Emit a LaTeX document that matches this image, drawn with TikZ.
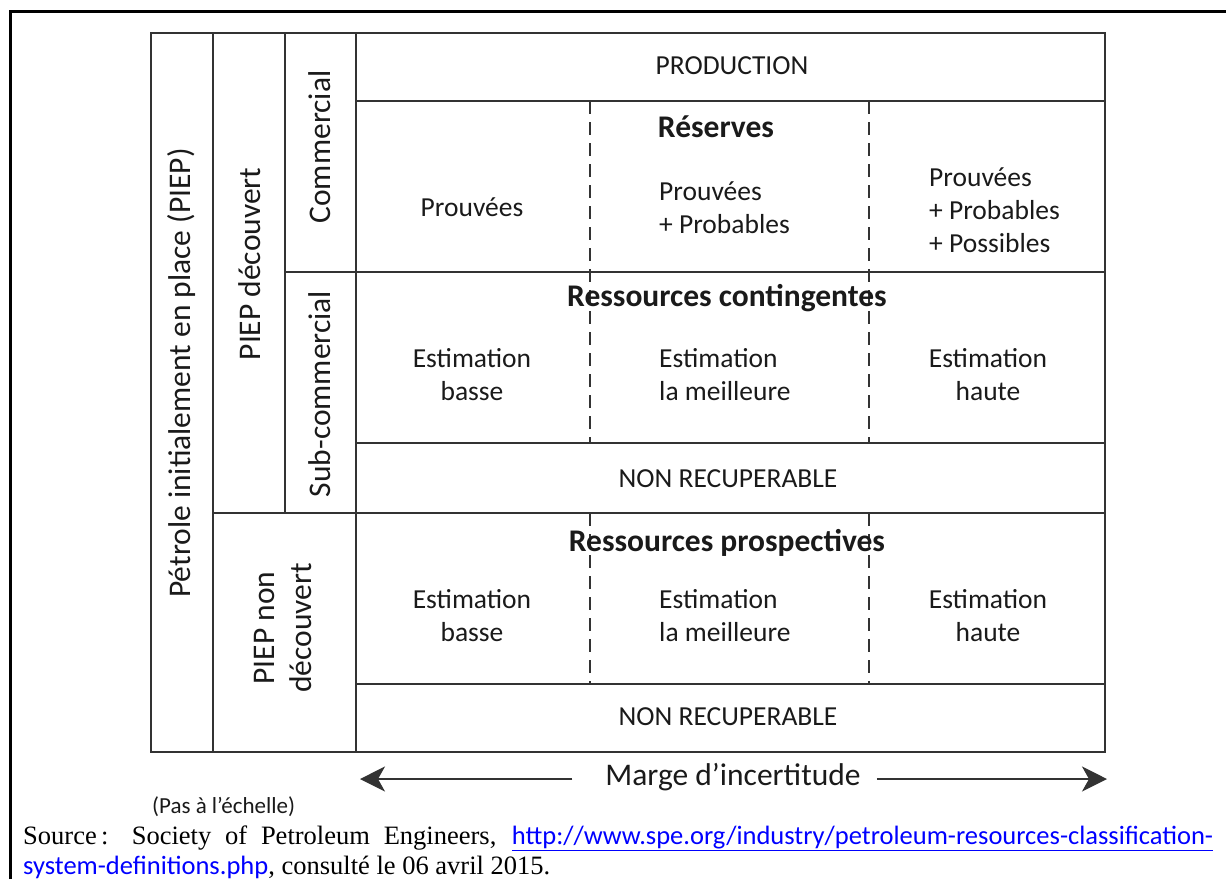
\documentclass[tikz,border=0pt]{standalone}
\usepackage{fontspec}
\setmainfont{Carlito}
\newfontfamily\srcfont{Liberation Serif}
\usetikzlibrary{arrows.meta}
\definecolor{linec}{HTML}{333333}
\definecolor{txtc}{HTML}{1A1A1A}
\definecolor{linkc}{HTML}{0000FF}
\begin{document}
\begin{tikzpicture}[x=1pt,y=-1pt,
  grid/.style={draw=linec, line width=1.8pt},
  dashline/.style={draw=linec, line width=1.6pt, dash pattern=on 13pt off 8pt},
  lbl/.style={font=\fontsize{27.5}{33}\selectfont, text=txtc, align=center, inner sep=0pt},
  lbll/.style={lbl, align=left, anchor=west},
  hdr/.style={font=\fontsize{31.5}{33}\selectfont\bfseries, text=txtc, inner sep=0pt},
  side/.style={lbl, font=\fontsize{31.5}{37}\selectfont, rotate=90},
  arr/.style={draw=linec, line width=1.6pt, -{Stealth[length=25pt,width=25pt,inset=7pt]}},
]
\useasboundingbox (0,0) rectangle (1226,879);
% outer frame
\draw[line width=2.7pt, black] (10.7,879) -- (10.7,11.3) -- (1226,11.3);
% table grid
\draw[grid] (151,33) rectangle (1105,752);
\draw[grid] (213,33) -- (213,752);
\draw[grid] (285,33) -- (285,513);
\draw[grid] (356,33) -- (356,752);
\draw[grid] (356,101) -- (1105,101);
\draw[grid] (285,272) -- (1105,272);
\draw[grid] (356,443) -- (1105,443);
\draw[grid] (213,513) -- (1105,513);
\draw[grid] (356,684) -- (1105,684);
% dashed separators
\draw[dashline] (590,101) -- (590,443);
\draw[dashline] (869,101) -- (869,443);
\draw[dashline] (590,513) -- (590,684);
\draw[dashline] (869,513) -- (869,684);
% side labels
\node[side] (piep) at (182,373) {Pétrole initialement en place (PIEP)};
\node[side] (decouv) at (250,264) {PIEP découvert};
\node[side] (comm) at (320,147) {Commercial};
\node[side] (subcomm) at (320,394) {Sub-commercial};
\node[side] (nondec) at (283,628) {PIEP non\\découvert};
% cells
\node[lbl] (prod) at (732,66) {PRODUCTION};
\node[hdr] (res) at (716,127) {Réserves};
\node[lbl] (p1) at (472,207) {Prouvées};
\node[lbll] (p2) at (659,208) {Prouvées\\+ Probables};
\node[lbll] (p3) at (929,210) {Prouvées\\+ Probables\\+ Possibles};
\node[hdr] (rc) at (727,298) {Ressources contingentes};
\node[lbl] (c1) at (472,375) {Estimation\\basse};
\node[lbll] (c2) at (659,375) {Estimation\\la meilleure};
\node[lbl] (c3) at (988,375) {Estimation\\haute};
\node[lbl] (nr1) at (728,479) {NON RECUPERABLE};
\node[hdr] (rp) at (727,543) {Ressources prospectives};
\node[lbl] (s1) at (472,616) {Estimation\\basse};
\node[lbll] (s2) at (659,616) {Estimation\\la meilleure};
\node[lbl] (s3) at (988,616) {Estimation\\haute};
\node[lbl] (nr2) at (728,717) {NON RECUPERABLE};
% uncertainty arrow
\node[lbl, font=\fontsize{31.5}{33}\selectfont] (marge) at (733,777) {Marge d’incertitude};
\coordinate (ltip) at (360,779);
\coordinate (rtip) at (1107,779);
\draw[arr] ([xshift=-33pt]marge.west |- ltip) -- (ltip);
\draw[arr] ([xshift=16pt]marge.east |- rtip) -- (rtip);
% notes
\node[lbl, font=\fontsize{23}{26}\selectfont, anchor=west] (pas) at (152,807) {(Pas à l’échelle)};
\node[anchor=west, inner sep=0pt, font=\srcfont\fontsize{26.5}{30}\selectfont] (src1) at (23,838)
  {\makebox[1190pt][s]{Source\,: Society of Petroleum Engineers, {\rmfamily\color{linkc}\underline{http://www.spe.org/industry/petroleum-resources-classification-}}}};
\node[anchor=west, inner sep=0pt, font=\srcfont\fontsize{26.5}{30}\selectfont] (src2) at (23,868)
  {{\rmfamily\color{linkc}\underline{system-definitions.php}}, consulté le 06 avril 2015.};
\end{tikzpicture}
\end{document}
